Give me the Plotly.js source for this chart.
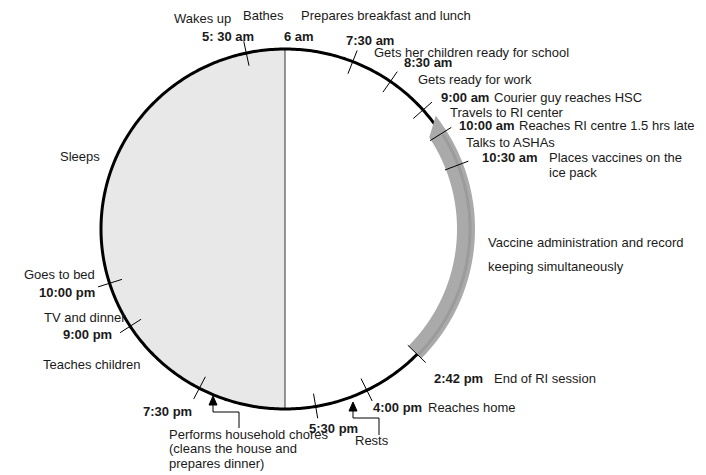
<!DOCTYPE html>
<html>
<head>
<meta charset="utf-8">
<script src="https://cdn.plot.ly/plotly-3.0.1.min.js"></script>
<style>html,body{margin:0;padding:0;background:#fff;}#chart{width:706px;height:475px;}</style>
</head>
<body>
<div id="chart"></div>
<script>
// ---- DATA ----
// Clock labels of the marked moments of the day
const timeLabels = ['5: 30 am', '7:30 am', '8:30 am', '9:00 am', '10:00 am', '10:30 am',
                    '2:42 pm', '4:00 pm', '5:30 pm', '7:30 pm', '9:00 pm', '10:00 pm'];
// Where each tick mark sits on the 24-hour dial (hours, as drawn in the picture)
const tickHours = [5.19, 7.44, 8.33, 9.24, 9.87, 10.62, 14.94, 16.24, 17.36, 19.85, 21.82, 22.83];
// Activities written around the dial
const activities = ['Wakes up', 'Bathes', 'Prepares breakfast and lunch',
  'Gets her children ready for school', 'Gets ready for work', 'Courier guy reaches HSC',
  'Travels to RI center', 'Reaches RI centre 1.5 hrs late', 'Talks to ASHAs',
  'Places vaccines on the', 'ice pack', 'Vaccine administration and record',
  'keeping simultaneously', 'End of RI session', 'Reaches home', 'Rests',
  'Performs household chores', '(cleans the house and', 'prepares dinner)',
  'Teaches children', 'TV and dinner', 'Goes to bed', 'Sleeps'];
const topLabel = '6 am';
// Shaded (sleep side) span of the dial, hours: 6 pm to 6 am next day
const shadeSpan = [18, 30];
// RI session band on the dial, hours (outer edge start, inner edge start, end)
const sessionSpan = [9.5, 9.8, 14.94];

// ---- GEOMETRY / STYLE ----
const CX = 285, CY = 229, RX = 184, RY = 180;
function pt(h, d) {
  const th = (h - 6) * 15 * Math.PI / 180;
  return [CX + (RX + d) * Math.sin(th), CY - (RY + d) * Math.cos(th)];
}
function arc(h0, h1, d, step) {
  const xs = [], ys = [];
  const n = Math.max(2, Math.ceil(Math.abs(h1 - h0) / step));
  for (let i = 0; i <= n; i++) {
    const p = pt(h0 + (h1 - h0) * i / n, d);
    xs.push(p[0]); ys.push(p[1]);
  }
  return [xs, ys];
}

const traces = [];
// shaded half
const sh = arc(shadeSpan[0], shadeSpan[1], 0, 0.05);
traces.push({x: sh[0], y: sh[1], mode: 'lines', fill: 'toself', fillcolor: '#e8e8e8',
  line: {width: 0, color: 'rgba(0,0,0,0)', simplify: false}, hoverinfo: 'skip'});
// vertical divider 6 am - 6 pm
const vt = pt(6, 0), vb = pt(18, 0);
traces.push({x: [vt[0], vb[0]], y: [vt[1], vb[1]], mode: 'lines',
  line: {color: '#333333', width: 1}, hoverinfo: 'skip'});
// dial outline
const ring = arc(0, 24, 0, 0.05);
traces.push({x: ring[0], y: ring[1], mode: 'lines', line: {color: '#000', width: 3, simplify: false}, hoverinfo: 'skip'});
// RI session band (filled ribbon with slanted start)
const outer = arc(sessionSpan[0], sessionSpan[2], 6, 0.02);
const inner = arc(sessionSpan[2], sessionSpan[1], -12, 0.02);
traces.push({x: outer[0].concat(inner[0]), y: outer[1].concat(inner[1]), mode: 'lines',
  fill: 'toself', fillcolor: '#aaaaaa', line: {width: 0, color: 'rgba(0,0,0,0)', simplify: false}, hoverinfo: 'skip'});
const mid = arc(sessionSpan[1] + 0.1, sessionSpan[2], 1, 0.02);
traces.push({x: mid[0], y: mid[1], mode: 'lines', line: {color: '#9b9b9b', width: 3, simplify: false}, hoverinfo: 'skip'});
// tick marks
const tx = [], ty = [];
tickHours.forEach(h => {
  const a = pt(h, -13), b = pt(h, 12);
  tx.push(a[0], b[0], null); ty.push(a[1], b[1], null);
});
traces.push({x: tx, y: ty, mode: 'lines', line: {color: '#000', width: 1}, hoverinfo: 'skip'});

// ---- TEXT PLACEMENT ----
const font = {family: 'Liberation Sans, Arial, sans-serif', size: 13, color: '#1a1a1a'};
const timePos = [[201, 36], [345, 40], [403, 62], [440, 97], [458, 125], [481, 157],
  [433, 378], [372, 407], [308, 428], [142, 411], [62, 334], [38, 292]];
const actPos = [[173, 18], [242, 15], [300, 15], [373, 52], [417, 79], [493, 97],
  [449, 112], [518, 125], [465, 142], [548, 157], [548, 172], [487, 242], [487, 266],
  [493, 378], [427, 407], [354, 440], [168, 434], [168, 448], [168, 463],
  [42, 364], [43, 317], [23, 274], [59, 156]];

const annotations = [];
timeLabels.forEach((t, i) => annotations.push({x: timePos[i][0], y: timePos[i][1],
  text: '<b>' + t + '</b>', xanchor: 'left', yanchor: 'middle', showarrow: false, font: font,
  borderpad: 0}));
activities.forEach((t, i) => annotations.push({x: actPos[i][0], y: actPos[i][1],
  text: t, xanchor: 'left', yanchor: 'middle', showarrow: false, font: font, borderpad: 0}));
annotations.push({x: 283, y: 36, text: '<b>' + topLabel + '</b>', xanchor: 'left', yanchor: 'middle',
  showarrow: false, font: font, borderpad: 0});

const shapes = [
  {type: 'path', path: 'M 239 428 L 239 412 L 213 412 L 213 403', line: {color: '#000', width: 1}, layer: 'above'},
  {type: 'path', path: 'M 209 405 L 217 405 L 213 396 Z', fillcolor: '#000', line: {color: '#000', width: 1}, layer: 'above'},
  {type: 'path', path: 'M 379 435 L 379 418 L 353 418 L 353 409', line: {color: '#000', width: 1}, layer: 'above'},
  {type: 'path', path: 'M 349 411 L 357 411 L 353 402 Z', fillcolor: '#000', line: {color: '#000', width: 1}, layer: 'above'}
];

const layout = {
  width: 706, height: 475,
  margin: {l: 0, r: 0, t: 0, b: 0},
  paper_bgcolor: '#fff', plot_bgcolor: '#fff',
  showlegend: false,
  xaxis: {range: [0, 706], visible: false, fixedrange: true},
  yaxis: {range: [475, 0], visible: false, fixedrange: true},
  annotations: annotations,
  shapes: shapes
};
Plotly.newPlot('chart', traces, layout, {displayModeBar: false, staticPlot: true});
</script>
</body>
</html>
